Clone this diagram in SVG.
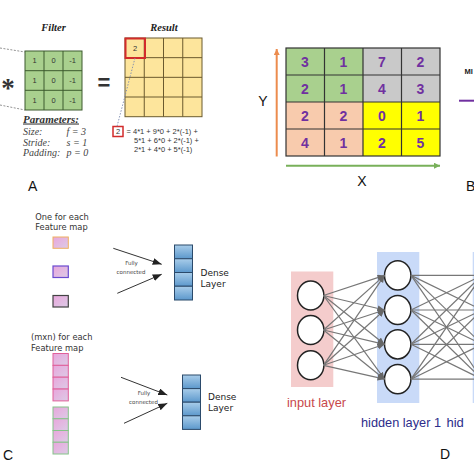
<svg xmlns="http://www.w3.org/2000/svg" width="474" height="474" viewBox="0 0 474 474">
<defs>
<style>
.sans{font-family:"Liberation Sans",Arial,sans-serif}
.serif{font-family:"Liberation Serif","Times New Roman",serif}
.dv{font-family:"DejaVu Sans",Verdana,sans-serif}
.cellA{font-family:"Liberation Sans",Arial,sans-serif;font-size:7.5px;fill:#333;text-anchor:middle}
.num{font-family:"Liberation Sans",Arial,sans-serif;font-size:14px;font-weight:bold;fill:#7030a0;text-anchor:middle}
.panel{font-family:"Liberation Sans",Arial,sans-serif;font-size:14px;fill:#111}
.eq{font-family:"Liberation Sans",Arial,sans-serif;font-size:7.5px;fill:#333}
.par{font-family:"Liberation Serif","Times New Roman",serif;font-style:italic;font-size:10px;fill:#444}
.fc{font-family:"DejaVu Sans",Verdana,sans-serif;font-size:5.5px;fill:#444;text-anchor:middle}
.dl{font-family:"DejaVu Sans",Verdana,sans-serif;font-size:9px;fill:#222}
.nn{fill:#fff;stroke:#222;stroke-width:1.5}
.w{stroke:#777;stroke-width:1.2;fill:none}
.wa{stroke:#777;stroke-width:1.2;fill:none;marker-end:url(#ga)}
.dcell{fill:url(#blueG);stroke:#2b4a6b;stroke-width:1}
</style>
<marker id="ga" markerUnits="userSpaceOnUse" markerWidth="8" markerHeight="7" refX="7" refY="3" orient="auto"><path d="M0,0 L7,3 L0,6 z" fill="#666"/></marker>
<marker id="ka" markerUnits="userSpaceOnUse" markerWidth="10" markerHeight="8" refX="9" refY="3.5" orient="auto"><path d="M0,0 L9,3.5 L0,7 z" fill="#222"/></marker>
<marker id="oa" markerUnits="userSpaceOnUse" markerWidth="8" markerHeight="8" refX="6" refY="3" orient="auto"><path d="M0,0 L6,3 L0,6 z" fill="#ec8c4e"/></marker>
<marker id="gra" markerUnits="userSpaceOnUse" markerWidth="8" markerHeight="8" refX="6" refY="3" orient="auto"><path d="M0,0 L6,3 L0,6 z" fill="#78b05a"/></marker>
<linearGradient id="pinkG" x1="0" y1="0" x2="1" y2="1"><stop offset="0" stop-color="#e9a6dc"/><stop offset="1" stop-color="#dccbe6"/></linearGradient>
<linearGradient id="blueG" x1="0" y1="0" x2="0" y2="1"><stop offset="0" stop-color="#a9cdea"/><stop offset="1" stop-color="#5c98cc"/></linearGradient>
</defs>
<rect width="474" height="474" fill="#fff"/>

<!-- Panel A -->
<g id="panelA">
<text class="serif" x="8" y="97" font-size="27" font-weight="bold" text-anchor="middle" fill="#333">*</text>
<text class="serif" x="53.5" y="30.5" font-size="10.5" font-weight="bold" font-style="italic" text-anchor="middle" fill="#222">Filter</text>
<text class="serif" x="164" y="30.5" font-size="10.5" font-weight="bold" font-style="italic" text-anchor="middle" fill="#222">Result</text>
<g id="filter">
<rect x="25" y="51" width="57" height="59" fill="#a9d08e" stroke="#3d5a2e" stroke-width="1"/>
<path d="M44 51V110M63 51V110M25 70.7H82M25 90.3H82" stroke="#3d5a2e" stroke-width="1"/>
<text class="cellA" x="34.5" y="63.4">1</text><text class="cellA" x="53.5" y="63.4">0</text><text class="cellA" x="72.5" y="63.4">-1</text>
<text class="cellA" x="34.5" y="83.1">1</text><text class="cellA" x="53.5" y="83.1">0</text><text class="cellA" x="72.5" y="83.1">-1</text>
<text class="cellA" x="34.5" y="102.8">1</text><text class="cellA" x="53.5" y="102.8">0</text><text class="cellA" x="72.5" y="102.8">-1</text>
</g>
<text class="sans" x="104" y="90" font-size="22" font-weight="bold" text-anchor="middle" fill="#333">=</text>
<g id="result">
<rect x="125" y="38" width="77" height="78.7" fill="#fde59c" stroke="#6b5a2e" stroke-width="1"/>
<path d="M144.25 38V116.7M163.5 38V116.7M182.75 38V116.7M125 57.67H202M125 77.33H202M125 97H202" stroke="#6b5a2e" stroke-width="1"/>
<rect x="125.5" y="38.5" width="19.5" height="19.5" fill="none" stroke="#d22b2b" stroke-width="2"/>
<text class="cellA" x="135" y="51">2</text>
</g>
<rect x="113" y="126.5" width="10" height="10" fill="#fff" stroke="#d22b2b" stroke-width="1.5"/>
<text class="cellA" x="118" y="134.3">2</text>
<text class="eq" x="126.5" y="134">= 4*1 + 9*0 + 2*(-1) +</text>
<text class="eq" x="134" y="143">5*1 + 6*0 + 2*(-1) +</text>
<text class="eq" x="134" y="152">2*1 + 4*0 + 5*(-1)</text>
<text class="serif" x="23" y="122.5" font-size="10.5" font-weight="bold" font-style="italic" text-decoration="underline" fill="#333" textLength="56" lengthAdjust="spacingAndGlyphs">Parameters:</text>
<text class="par" x="23" y="135">Size:</text><text class="par" x="66.5" y="135">f = 3</text>
<text class="par" x="23" y="145.5">Stride:</text><text class="par" x="66.5" y="145.5">s = 1</text>
<text class="par" x="23" y="156">Padding:</text><text class="par" x="66.5" y="156">p = 0</text>
<text class="panel" x="28" y="191">A</text>
</g>

<!-- Panel B -->
<g id="panelB">
<rect x="286" y="48" width="77" height="54" fill="#a9d08e"/>
<rect x="363" y="48" width="77" height="54" fill="#c9c9c9"/>
<rect x="286" y="102" width="77" height="54" fill="#f8cbad"/>
<rect x="363" y="102" width="77" height="54" fill="#ffff00"/>
<rect x="286" y="48" width="154" height="108" fill="none" stroke="#333" stroke-width="1.2"/>
<path d="M324.5 48V156M363 48V156M401.5 48V156M286 75H440M286 102H440M286 129H440" stroke="#333" stroke-width="1.2"/>
<text class="num" x="305" y="66.5">3</text><text class="num" x="343.5" y="66.5">1</text><text class="num" x="382" y="66.5">7</text><text class="num" x="420.5" y="66.5">2</text>
<text class="num" x="305" y="93.5">2</text><text class="num" x="343.5" y="93.5">1</text><text class="num" x="382" y="93.5">4</text><text class="num" x="420.5" y="93.5">3</text>
<text class="num" x="305" y="120.5">2</text><text class="num" x="343.5" y="120.5">2</text><text class="num" x="382" y="120.5">0</text><text class="num" x="420.5" y="120.5">1</text>
<text class="num" x="305" y="147.5">4</text><text class="num" x="343.5" y="147.5">1</text><text class="num" x="382" y="147.5">2</text><text class="num" x="420.5" y="147.5">5</text>
<text class="panel" x="263" y="106" text-anchor="middle">Y</text>
<text class="panel" x="362" y="186" text-anchor="middle">X</text>
<text class="sans" x="464.5" y="74" font-size="7.5" font-weight="bold" fill="#222">MI</text>
<text class="panel" x="466" y="191">B</text>
</g>

<!-- Panel C -->
<g id="panelC">
<text class="dv" x="62" y="219.5" font-size="8.3" text-anchor="middle" fill="#333">One for each</text>
<text class="dv" x="61.5" y="230" font-size="8.3" text-anchor="middle" fill="#333">Feature map</text>
<g id="c-sq1"><rect x="53" y="237" width="15.3" height="11.3" fill="url(#pinkG)" stroke="#f0b060" stroke-width="1"/></g>
<g id="c-sq2"><rect x="53" y="266" width="15.3" height="11.5" fill="url(#pinkG)" stroke="#6a4bd0" stroke-width="1.2"/></g>
<g id="c-sq3"><rect x="53" y="295.5" width="15.3" height="11.5" fill="url(#pinkG)" stroke="#444" stroke-width="1.2"/></g>
<text class="fc" x="131.5" y="265">Fully</text>
<text class="fc" x="131" y="274">connected</text>
<g id="dense1">
<rect class="dcell" x="174.5" y="245" width="18" height="13.75"/>
<rect class="dcell" x="174.5" y="258.75" width="18" height="13.75"/>
<rect class="dcell" x="174.5" y="272.5" width="18" height="13.75"/>
<rect class="dcell" x="174.5" y="286.25" width="18" height="13.75"/>
</g>
<text class="dl" x="200.5" y="276">Dense</text>
<text class="dl" x="200.5" y="286.5">Layer</text>
<text class="dv" x="31" y="339.5" font-size="8.3" fill="#333">(mxn) for each</text>
<text class="dv" x="31" y="350.5" font-size="8.3" fill="#333">Feature map</text>
<g id="c-col1">
<rect x="53" y="353.5" width="15.3" height="11.85" fill="url(#pinkG)" stroke="#e0609a" stroke-width="1"/>
<rect x="53" y="365.35" width="15.3" height="11.85" fill="url(#pinkG)" stroke="#e0609a" stroke-width="1"/>
<rect x="53" y="377.2" width="15.3" height="11.85" fill="url(#pinkG)" stroke="#e0609a" stroke-width="1"/>
<rect x="53" y="389.05" width="15.3" height="11.85" fill="url(#pinkG)" stroke="#e0609a" stroke-width="1"/>
</g>
<g id="c-col2">
<rect x="53" y="407" width="15.3" height="11.75" fill="url(#pinkG)" stroke="#86c48a" stroke-width="1"/>
<rect x="53" y="418.75" width="15.3" height="11.75" fill="url(#pinkG)" stroke="#86c48a" stroke-width="1"/>
<rect x="53" y="430.5" width="15.3" height="11.75" fill="url(#pinkG)" stroke="#86c48a" stroke-width="1"/>
<rect x="53" y="442.25" width="15.3" height="11.75" fill="url(#pinkG)" stroke="#86c48a" stroke-width="1"/>
</g>
<text class="fc" x="144" y="395">Fully</text>
<text class="fc" x="143.5" y="403.5">connected</text>
<g id="dense2">
<rect class="dcell" x="182.5" y="375" width="18" height="13.6"/>
<rect class="dcell" x="182.5" y="388.6" width="18" height="13.6"/>
<rect class="dcell" x="182.5" y="402.2" width="18" height="13.6"/>
<rect class="dcell" x="182.5" y="415.8" width="18" height="13.6"/>
</g>
<text class="dl" x="208" y="400">Dense</text>
<text class="dl" x="208" y="410.5">Layer</text>
<text class="panel" x="3" y="460">C</text>
</g>

<!-- Panel D -->
<g id="panelD">
<rect x="291" y="271.5" width="42.3" height="115.5" fill="#f4cccc"/>
<rect x="377" y="252" width="42.3" height="151" fill="#c9daf8"/>
<rect x="472.7" y="252" width="10" height="151" fill="#c9daf8"/>
<g id="in1"><ellipse class="nn" cx="310.7" cy="295.5" rx="13.2" ry="14.5"/></g>
<g id="in2"><ellipse class="nn" cx="310.7" cy="330" rx="13.2" ry="14.5"/></g>
<g id="in3"><ellipse class="nn" cx="310.7" cy="365.3" rx="13.2" ry="14.5"/></g>
<g id="h1"><ellipse class="nn" cx="397.7" cy="275.4" rx="13.2" ry="14.6"/></g>
<g id="h2"><ellipse class="nn" cx="397.7" cy="310" rx="13.2" ry="14.6"/></g>
<g id="h3"><ellipse class="nn" cx="397.7" cy="344.3" rx="13.2" ry="14.6"/></g>
<g id="h4"><ellipse class="nn" cx="397.7" cy="379.2" rx="13.2" ry="14.6"/></g>
<text class="sans" x="287" y="406.5" font-size="13" fill="#c8484b" textLength="59" lengthAdjust="spacingAndGlyphs">input layer</text>
<text class="sans" x="361" y="426.5" font-size="13" fill="#2d2d8a" textLength="80" lengthAdjust="spacingAndGlyphs">hidden layer 1</text>
<text class="sans" x="446.5" y="426.5" font-size="13" fill="#2d2d8a">hid</text>
<text class="panel" x="440" y="459">D</text>
</g>

<!-- Connectors -->
<g id="connectors">
<line x1="0" y1="48" x2="25" y2="52" stroke="#777" stroke-width="0.8" stroke-dasharray="2,1.5"/>
<line x1="0" y1="105" x2="25" y2="110" stroke="#777" stroke-width="0.8" stroke-dasharray="2,1.5"/>
<line x1="135" y1="58" x2="117" y2="126.5" stroke="#7d8bb0" stroke-width="0.9" stroke-dasharray="1.5,1.5"/>
<line x1="276.7" y1="156.5" x2="276.7" y2="49" stroke="#ec8c4e" stroke-width="2" marker-end="url(#oa)"/>
<line x1="286" y1="165.7" x2="440" y2="165.7" stroke="#78b05a" stroke-width="2" marker-end="url(#gra)"/>
<line x1="459" y1="100.7" x2="474" y2="100.7" stroke="#7030a0" stroke-width="2"/>
<line x1="113.3" y1="248.3" x2="161.7" y2="264.3" stroke="#333" stroke-width="1" marker-end="url(#ka)"/>
<line x1="117.3" y1="293.3" x2="161.7" y2="274.3" stroke="#333" stroke-width="1" marker-end="url(#ka)"/>
<line x1="121" y1="377.3" x2="167.3" y2="395" stroke="#333" stroke-width="1" marker-end="url(#ka)"/>
<line x1="124" y1="423.3" x2="167.3" y2="403.3" stroke="#333" stroke-width="1" marker-end="url(#ka)"/>
<line class="wa" x1="323.5" y1="295.5" x2="384.5" y2="275.4"/>
<line class="wa" x1="323.5" y1="295.5" x2="384.5" y2="310"/>
<line class="wa" x1="323.5" y1="295.5" x2="384.5" y2="344.3"/>
<line class="wa" x1="323.5" y1="295.5" x2="384.5" y2="379.2"/>
<line class="wa" x1="323.5" y1="330" x2="384.5" y2="275.4"/>
<line class="wa" x1="323.5" y1="330" x2="384.5" y2="310"/>
<line class="wa" x1="323.5" y1="330" x2="384.5" y2="344.3"/>
<line class="wa" x1="323.5" y1="330" x2="384.5" y2="379.2"/>
<line class="wa" x1="323.5" y1="365.3" x2="384.5" y2="275.4"/>
<line class="wa" x1="323.5" y1="365.3" x2="384.5" y2="310"/>
<line class="wa" x1="323.5" y1="365.3" x2="384.5" y2="344.3"/>
<line class="wa" x1="323.5" y1="365.3" x2="384.5" y2="379.2"/>
<line class="w" x1="411" y1="275.4" x2="482" y2="275.4"/>
<line class="w" x1="411" y1="275.4" x2="482" y2="310"/>
<line class="w" x1="411" y1="275.4" x2="482" y2="344.3"/>
<line class="w" x1="411" y1="275.4" x2="482" y2="379.2"/>
<line class="w" x1="411" y1="310" x2="482" y2="275.4"/>
<line class="w" x1="411" y1="310" x2="482" y2="310"/>
<line class="w" x1="411" y1="310" x2="482" y2="344.3"/>
<line class="w" x1="411" y1="310" x2="482" y2="379.2"/>
<line class="w" x1="411" y1="344.3" x2="482" y2="275.4"/>
<line class="w" x1="411" y1="344.3" x2="482" y2="310"/>
<line class="w" x1="411" y1="344.3" x2="482" y2="344.3"/>
<line class="w" x1="411" y1="344.3" x2="482" y2="379.2"/>
<line class="w" x1="411" y1="379.2" x2="482" y2="275.4"/>
<line class="w" x1="411" y1="379.2" x2="482" y2="310"/>
<line class="w" x1="411" y1="379.2" x2="482" y2="344.3"/>
<line class="w" x1="411" y1="379.2" x2="482" y2="379.2"/>
</g>
</svg>
